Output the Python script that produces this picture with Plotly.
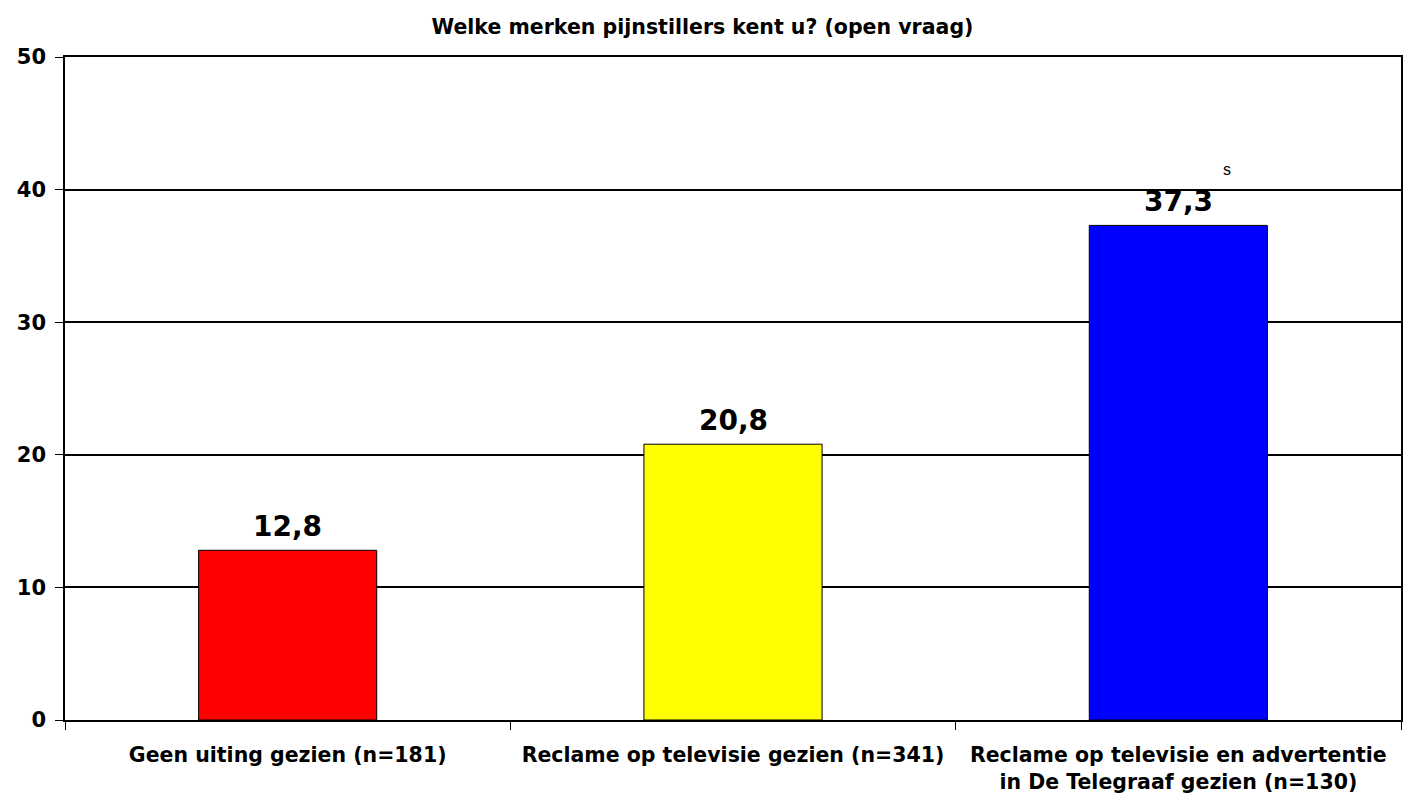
import plotly.graph_objects as go

# Data
categories = [
    "Geen uiting gezien (n=181)",
    "Reclame op televisie gezien (n=341)",
    "Reclame op televisie en advertentie<br>in De Telegraaf gezien (n=130)",
]
values = [12.8, 20.8, 37.3]
bar_colors = ["#ff0000", "#ffff00", "#0000ff"]
value_labels = ["12,8", "20,8", "37,3"]

font_family = "DejaVu Sans"

fig = go.Figure()
fig.add_trace(go.Bar(
    x=categories,
    y=values,
    width=0.4,
    marker=dict(color=bar_colors, line=dict(color="black", width=1)),
    hoverinfo="x+y",
))

# value labels above the bars
for cat, val, lab in zip(categories, values, value_labels):
    fig.add_annotation(
        x=cat, y=val, xref="x", yref="y", text=lab, showarrow=False,
        yanchor="bottom", yshift=5,
        font=dict(family=font_family, size=28, color="black", weight="bold"),
    )

# significance marker above the last bar
fig.add_annotation(
    x=2.11, y=41.5, xref="x", yref="y", text="s", showarrow=False,
    font=dict(family="Liberation Sans", size=16, color="black"),
)

fig.update_layout(
    width=1405, height=796,
    margin=dict(l=65, r=4, t=57, b=76),
    plot_bgcolor="white", paper_bgcolor="white",
    showlegend=False,
    title=dict(
        text="Welke merken pijnstillers kent u? (open vraag)",
        x=0.5, xref="container", y=0.966, yanchor="middle",
        font=dict(family=font_family, size=20.5, color="black", weight="bold"),
    ),
    bargap=0.6,
)

fig.update_xaxes(
    automargin=False,
    showline=True, linecolor="black", linewidth=1.5, mirror=True,
    ticks="outside", tickson="boundaries", ticklen=8, tickcolor="black",
    ticklabelstandoff=16,
    tickfont=dict(family=font_family, size=20.5, color="black", weight="bold"),
    showgrid=False,
)
fig.update_yaxes(
    automargin=False,
    range=[0, 50], dtick=10,
    showline=True, linecolor="black", linewidth=1.5, mirror=True,
    ticks="outside", ticklen=8, tickcolor="black",
    ticklabelstandoff=5,
    showgrid=True, gridcolor="black", gridwidth=1.5,
    tickfont=dict(family=font_family, size=21, color="black", weight="bold"),
    zeroline=False,
)

fig.write_html(
    "out.html",
    config={"displayModeBar": False},
    post_script="document.body.style.margin='0';",
)
